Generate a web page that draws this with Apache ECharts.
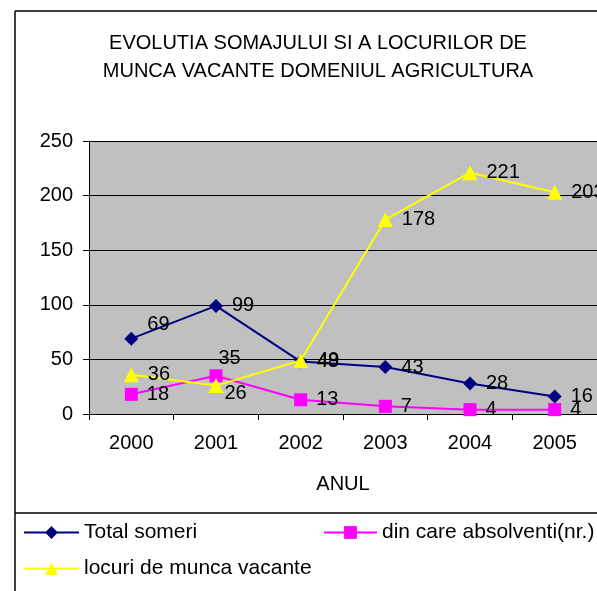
<!DOCTYPE html>
<html>
<head>
<meta charset="utf-8">
<script src="https://cdn.jsdelivr.net/npm/echarts@6/dist/echarts.min.js"></script>
<style>
  html, body { margin: 0; padding: 0; background: #fff; }
  #chart { width: 597px; height: 591px; }
</style>
</head>
<body>
<div id="chart"></div>
<script>
// date
var years = ['2000', '2001', '2002', '2003', '2004', '2005'];
var totalSomeri = [69, 99, 48, 43, 28, 16];
var absolventi = [18, 35, 13, 7, 4, 4];
var locuriVacante = [36, 26, 49, 178, 221, 203];
var yTicks = [0, 50, 100, 150, 200, 250];

var font = 'Liberation Sans, Arial, sans-serif';

// mutari ale etichetelor (ca in Excel, unde se suprapun)
function withOffsets(values, offsets) {
  return values.map(function (v, i) {
    var off = offsets[i];
    if (!off) return v;
    return { value: v, label: { offset: off } };
  });
}

var chart = echarts.init(document.getElementById('chart'), null, { renderer: 'canvas' });

var labelStyle = {
  show: true,
  position: 'right',
  distance: 9,
  color: '#000',
  fontSize: 20,
  fontFamily: font
};

var legendText = { fontFamily: font, fontSize: 21, color: '#000' };

var option = {
  backgroundColor: '#ffffff',
  animation: false,
  title: {
    text: 'EVOLUTIA SOMAJULUI SI A LOCURILOR DE\nMUNCA VACANTE DOMENIUL AGRICULTURA',
    left: 313,
    top: 24,
    textAlign: 'center',
    textStyle: {
      fontFamily: font,
      fontWeight: 'normal',
      fontSize: 20,
      lineHeight: 28,
      color: '#000'
    }
  },
  grid: {
    left: 89,
    top: 141,
    width: 510,
    height: 273,
    show: true,
    backgroundColor: '#C0C0C0',
    borderWidth: 0
  },
  legend: [
    {
      data: ['Total someri'],
      left: 18, top: 517,
      itemWidth: 55, itemHeight: 16, itemGap: 5,
      textStyle: legendText
    },
    {
      data: ['din care absolventi(nr.)'],
      left: 318, top: 517,
      itemWidth: 53, itemHeight: 16, itemGap: 5,
      textStyle: legendText
    },
    {
      data: ['locuri de munca vacante'],
      left: 18, top: 553,
      itemWidth: 55, itemHeight: 16, itemGap: 5,
      textStyle: legendText
    }
  ],
  xAxis: {
    type: 'category',
    data: years,
    boundaryGap: true,
    name: 'ANUL',
    nameLocation: 'middle',
    nameGap: 60,
    nameTextStyle: { fontFamily: font, fontSize: 20, color: '#000' },
    axisLine: { lineStyle: { color: '#000', width: 1 } },
    axisTick: { show: true, length: 6, lineStyle: { color: '#000' } },
    axisLabel: { margin: 19, fontFamily: font, fontSize: 20, color: '#000' },
    splitLine: { show: false }
  },
  yAxis: {
    type: 'value',
    min: yTicks[0],
    max: yTicks[yTicks.length - 1],
    interval: 50,
    axisLine: { show: true, lineStyle: { color: '#000', width: 1 } },
    axisTick: { show: true, length: 6, lineStyle: { color: '#000' } },
    axisLabel: { margin: 16, fontFamily: font, fontSize: 20, color: '#000' },
    splitLine: { show: true, lineStyle: { color: '#000', width: 1 } }
  },
  series: [
    {
      name: 'Total someri',
      type: 'line',
      data: withOffsets(totalSomeri, [[0, -14]]),
      color: '#000080',
      symbol: 'diamond',
      symbolSize: 14,
      lineStyle: { width: 2, color: '#000080' },
      itemStyle: { color: '#000080' },
      label: labelStyle,
      z: 3
    },
    {
      name: 'din care absolventi(nr.)',
      type: 'line',
      data: withOffsets(absolventi, [null, [-13, -17]]),
      color: '#FF00FF',
      symbol: 'rect',
      symbolSize: 13,
      lineStyle: { width: 2, color: '#FF00FF' },
      itemStyle: { color: '#FF00FF' },
      label: labelStyle,
      z: 2
    },
    {
      name: 'locuri de munca vacante',
      type: 'line',
      data: withOffsets(locuriVacante, [null, [-8, 8]]),
      color: '#FFFF00',
      symbol: 'triangle',
      symbolSize: 15,
      lineStyle: { width: 2, color: '#FFFF00' },
      itemStyle: { color: '#FFFF00' },
      label: labelStyle,
      z: 4
    }
  ],
  graphic: [
    { type: 'line', shape: { x1: 15, y1: 11, x2: 597, y2: 11 }, style: { stroke: '#000', lineWidth: 1.5 } },
    { type: 'line', shape: { x1: 15, y1: 11, x2: 15, y2: 591 }, style: { stroke: '#000', lineWidth: 1.5 } },
    { type: 'line', shape: { x1: 15, y1: 513, x2: 597, y2: 513 }, style: { stroke: '#000', lineWidth: 1.5 } }
  ]
};

chart.setOption(option);
</script>
</body>
</html>
